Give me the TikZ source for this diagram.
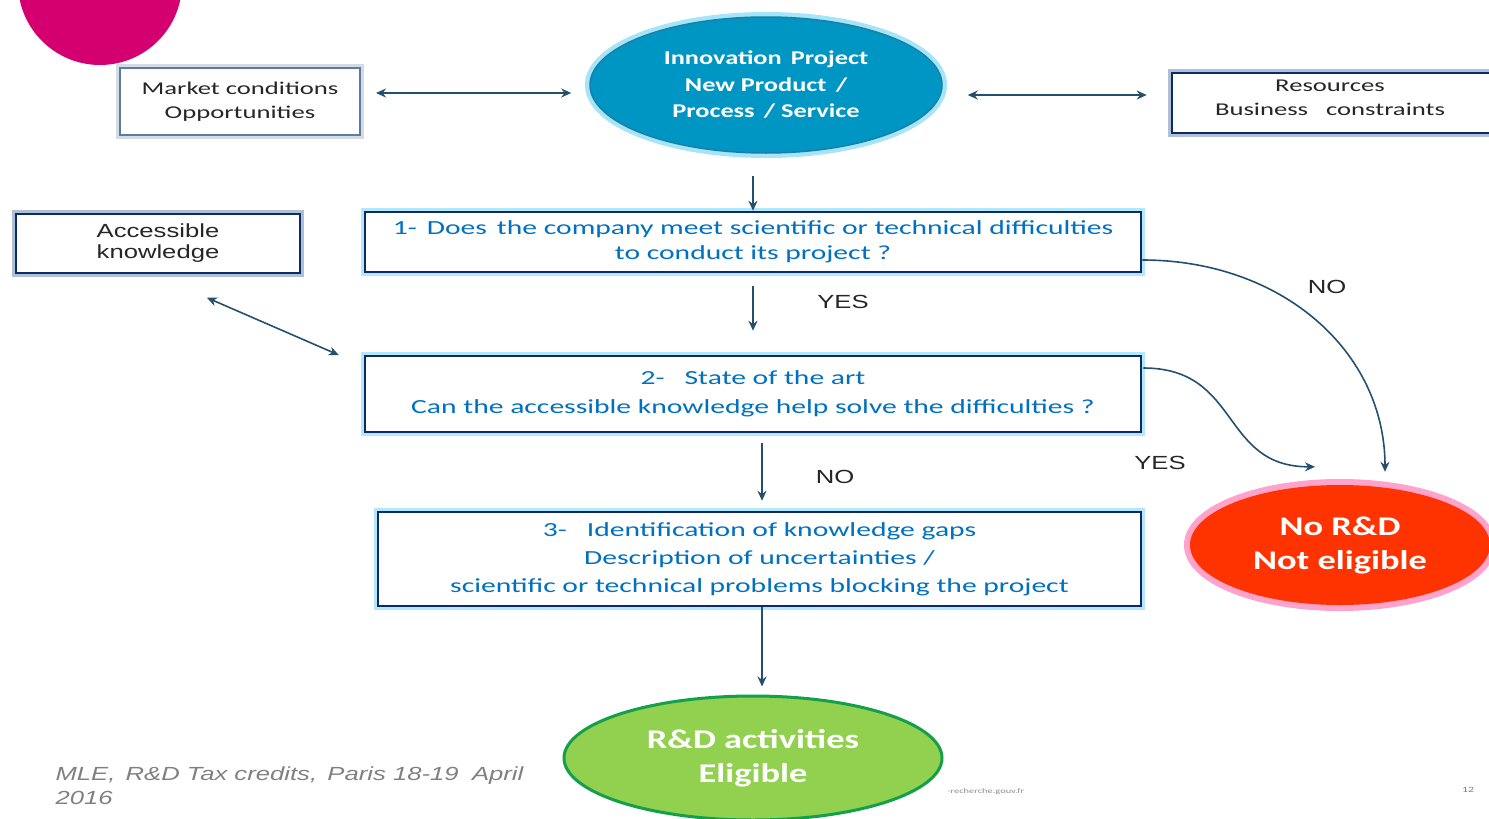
\documentclass[tikz,border=0pt]{standalone}
\usepackage{fontspec}
\setmainfont[FakeStretch=1.48]{Carlito}
\newfontfamily\blobfont[FakeStretch=1.35]{Carlito}
\newfontfamily\arialfont[FakeStretch=1.35]{Liberation Sans}
\usetikzlibrary{arrows.meta,shapes.geometric}
\definecolor{navyline}{HTML}{0B2A66}
\definecolor{halo}{HTML}{B3E8FA}
\definecolor{haze}{HTML}{AFC0D4}
\definecolor{mktline}{HTML}{5E7AA0}
\definecolor{mkthaze}{HTML}{D3DBE5}
\definecolor{textblue}{HTML}{0070C0}
\definecolor{arrowblue}{HTML}{24506E}
\definecolor{projfill}{HTML}{0096C3}
\definecolor{projline}{HTML}{1A7FA8}
\definecolor{projglow}{HTML}{A6E4F7}
\definecolor{nofill}{HTML}{FF3300}
\definecolor{noglow}{HTML}{FFA3CC}
\definecolor{yesfill}{HTML}{92D050}
\definecolor{yesline}{HTML}{14A04A}
\definecolor{topdot}{HTML}{D5006F}
\tikzset{
  qbox/.style = {draw=navyline, line width=2.5pt, fill=white,
    preaction={draw=halo, line width=8pt}, text=textblue, align=center,
    inner sep=0pt, font=\fontsize{20}{25}\selectfont},
  sidebox/.style = {draw=navyline, line width=2.5pt, fill=white,
    preaction={draw=haze, line width=8pt}, text=black!85, align=center,
    inner sep=0pt, font=\fontsize{18}{24}\selectfont},% boites laterales
  blob/.style = {ellipse, inner sep=0pt, text=white, align=center},
  link/.style = {draw=arrowblue, line width=1.6pt,
    -{Stealth[length=10pt,width=9pt]}},
  twoway/.style = {link, {Stealth[length=10pt,width=9pt]}-{Stealth[length=10pt,width=9pt]}},
  answer/.style = {font=\arialfont\fontsize{19}{20}\selectfont, text=black!85}
}
\begin{document}
\begin{tikzpicture}[x=1pt, y=-1pt]
  \useasboundingbox (0,0) rectangle (1489,819);
  \fill[topdot] (100,-17) circle (82pt);
  % top row
  \node [sidebox, draw=mktline, line width=2pt, preaction={draw=mkthaze, line width=8pt},
    minimum width=240pt, minimum height=67pt] (mkt) at (240,101.5)
    {Market conditions\\Opportunities};
  \node [blob, draw=projline, line width=1.5pt, fill=projfill,
    preaction={draw=projglow, line width=10pt},
    minimum width=352pt, minimum height=136pt,
    font=\blobfont\bfseries\fontsize{19.5}{26.5}\selectfont] (proj) at (766,85)
    {Innovation\, Project\\ New Product\, /\\Process\, / Service};
  \node [sidebox, minimum width=340pt, minimum height=60pt] (res) at (1342,103) {};
  \node [text=black!85, align=center, font=\fontsize{18}{24}\selectfont] at (1330,98)
    {Resources\\Business\quad constraints};
  \node [sidebox, minimum width=284pt, minimum height=59pt,
    font=\arialfont\fontsize{19}{21}\selectfont] (know) at (158,243.5)
    {Accessible\\knowledge};
  % questions
  \node [qbox, minimum width=776pt, minimum height=60pt] (q1) at (753,242)
    {1-\, Does\, the company meet scientific or technical difficulties\\to conduct its project ?};
  \node [qbox, minimum width=776pt, minimum height=76pt,
    font=\fontsize{20}{29}\selectfont] (q2) at (753,394)
    {2-\quad State of the art\\Can the accessible knowledge help solve the difficulties ?};
  \node [qbox, minimum width=763pt, minimum height=94pt,
    font=\fontsize{20}{28}\selectfont] (q3) at (759.5,559)
    {3-\quad Identification of knowledge gaps\\Description of uncertainties /\\scientific or technical problems blocking the project};
  % outcomes
  \node [blob, fill=nofill, preaction={draw=noglow, line width=12pt},
    minimum width=300pt, minimum height=120pt,
    font=\blobfont\bfseries\fontsize{27}{34}\selectfont] (nord) at (1340,545)
    {No R\&D\\Not eligible};
  \node [blob, draw=yesline, line width=3pt, fill=yesfill,
    minimum width=378pt, minimum height=124pt,
    font=\blobfont\bfseries\fontsize{27}{34}\selectfont] (rd) at (753,758)
    {R\&D activities\\Eligible};
  % connectors
  \draw [twoway] ([xshift=15pt,yshift=8.5pt]mkt.east) -- ([xshift=-18pt,yshift=-8pt]proj.west);
  \draw [twoway] ([xshift=25pt,yshift=-10pt]proj.east) -- ([xshift=-24pt,yshift=8pt]res.west);
  \draw [twoway] ([xshift=49pt,yshift=-23.5pt]know.south) -- ([xshift=-25pt,yshift=39pt]q2.west);
  \draw [link] ([yshift=-22pt]proj.south -| q1.north) -- (q1.north);
  \draw [link, shorten <=13pt, shorten >=24pt] (q1.south) -- (q2.north);
  \draw [link, shorten <=10pt, shorten >=10pt] ([xshift=9pt]q2.south) -- ([xshift=9pt]q2.south |- q3.north);
  \draw [link] ([xshift=2.5pt]q3.south) -- ([xshift=2.5pt,yshift=8pt]q3.south |- rd.north);
  \draw [link] ([yshift=-18pt]q1.east) .. controls +(140,0) and +(0,-120) .. ([xshift=45pt,yshift=13pt]nord.north);
  \draw [link] ([xshift=1pt,yshift=26pt]q2.east) .. controls +(98,0) and +(-95,0) .. ([xshift=-25pt,yshift=18pt]nord.north);
  % answers
  \node [answer] at (843,302) {YES};
  \node [answer] at (835,477) {NO};
  \node [answer] at (1327,287) {NO};
  \node [answer] at (1160,463) {YES};
  % footer
  \node [anchor=north west, align=left, text=black!50,
    font=\arialfont\itshape\fontsize{19}{24}\selectfont] (foot) at (52,763)
    {MLE,\, R\&D Tax credits,\, Paris 18-19\,\, April\\2016};
  \node [text=black!45, font=\fontsize{7}{8}\selectfont, anchor=west] (web) at (944,792) {-recherche.gouv.fr};
  \node [text=gray, font=\fontsize{8}{9}\selectfont] (page) at (1468,790) {12};
\end{tikzpicture}
\end{document}
